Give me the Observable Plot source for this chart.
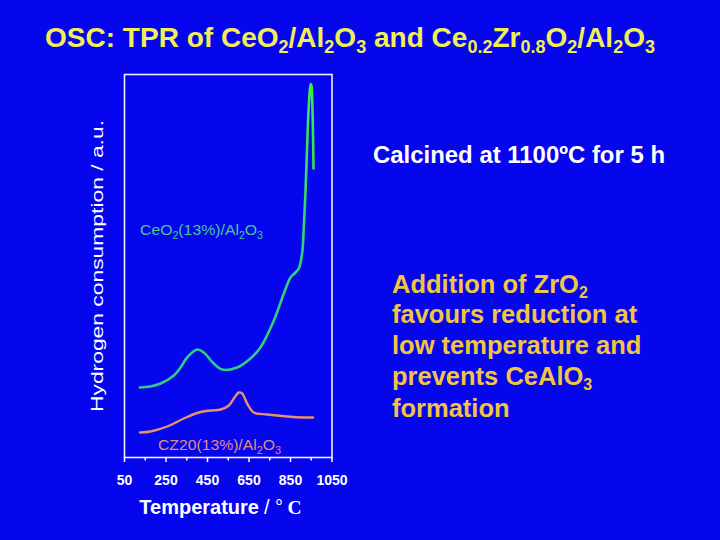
<!DOCTYPE html>
<html>
<head>
<meta charset="utf-8">
<script src="https://cdn.jsdelivr.net/npm/d3@7"></script>
<script src="https://cdn.jsdelivr.net/npm/@observablehq/plot@0.6"></script>
<style>
  html, body { margin: 0; padding: 0; background: #0505EE; }
  body { width: 720px; height: 540px; overflow: hidden; }
  svg text { font-family: "Liberation Sans", Arial, sans-serif; }
</style>
</head>
<body>
<div id="chart"></div>
<script>
// ---- Data ----
// CeO2(13%)/Al2O3 TPR trace: temperature (°C) and hydrogen consumption (a.u.)
const ceTemp = [124, 175, 224, 288, 320, 352, 400, 432, 480, 521, 593, 657, 705, 770, 818, 850, 869, 890, 906, 914, 922, 930, 937, 944, 948, 951, 956, 959, 961];
const ceH2   = [70, 71, 74, 82, 90, 100, 108, 105, 94, 88, 90, 99, 110, 137, 164, 180, 184, 189, 204, 230, 264, 310, 347, 369, 373.5, 372, 347, 317, 289];
// CZ20(13%)/Al2O3 TPR trace
const czTemp = [124, 175, 256, 336, 408, 464, 513, 553, 577, 601, 617, 641, 673, 738, 834, 914, 959];
const czH2   = [25, 26, 31, 39, 45, 47, 48, 52, 59, 65, 64, 54, 45, 43, 41, 40, 40];
// Axis ticks
const majorTicks = [50, 250, 450, 650, 850, 1050];
const minorTicks = [150, 350, 550, 750, 950];

const ce = ceTemp.map((t, i) => ({T: t, H: ceH2[i]}));
const cz = czTemp.map((t, i) => ({T: t, H: czH2[i]}));

const chart = Plot.plot({
  width: 720,
  height: 540,
  marginLeft: 124,
  marginRight: 388.5,
  marginTop: 74,
  marginBottom: 83,
  x: {domain: [50, 1050]},
  y: {domain: [0, 383], axis: null},
  style: {background: "transparent", color: "white", fontFamily: "Liberation Sans, Arial, sans-serif", overflow: "visible"},
  marks: [
    Plot.frame({stroke: "#f2f2f2", strokeWidth: 1.6}),
    Plot.axisX({ticks: minorTicks, tickSize: 3.5, tickFormat: () => "", strokeWidth: 1.5, label: null}),
    Plot.axisX({ticks: majorTicks, tickSize: 5, tickPadding: 13, fontSize: 14, fontWeight: "bold", strokeWidth: 1.5, label: null, tickFormat: d => String(d)}),
    Plot.line(ce, {x: "T", y: "H", stroke: "url(#greenGrad)", strokeWidth: 2.6, curve: "catmull-rom"}),
    Plot.line(cz, {x: "T", y: "H", stroke: "#E8906C", strokeWidth: 2.4, curve: "catmull-rom"})
  ]
});
document.getElementById("chart").appendChild(chart);

const svg = d3.select(chart);
const defs = svg.insert("defs", ":first-child");
const grad = defs.append("linearGradient")
  .attr("id", "greenGrad").attr("gradientUnits", "userSpaceOnUse")
  .attr("x1", 0).attr("y1", 74).attr("x2", 0).attr("y2", 457);
grad.append("stop").attr("offset", "0%").attr("stop-color", "#3CEE3C");
grad.append("stop").attr("offset", "45%").attr("stop-color", "#33D27A");
grad.append("stop").attr("offset", "100%").attr("stop-color", "#2FC88E");

// helper: text with subscripts
function richText(g, x, y, parts, opts) {
  const t = g.append("text").attr("x", x).attr("y", y)
    .attr("fill", opts.fill).attr("font-size", opts.size)
    .attr("font-weight", opts.weight || "normal")
    .attr("text-anchor", opts.anchor || "start");
  if (opts.len) t.attr("textLength", opts.len).attr("lengthAdjust", "spacingAndGlyphs");
  if (opts.transform) t.attr("transform", opts.transform);
  let down = false;
  parts.forEach(p => {
    const isSub = typeof p === "object";
    const s = t.append("tspan").text(isSub ? p.sub : p);
    if (isSub) {
      s.attr("font-size", opts.subSize);
      if (!down) { s.attr("dy", opts.subDy); down = true; }
    } else if (down) {
      s.attr("dy", -opts.subDy); down = false;
    }
  });
  return t;
}

const g = svg.append("g").attr("text-anchor", "start");

// Title
richText(g, 45, 46.7,
  ["OSC: TPR of CeO", {sub: "2"}, "/Al", {sub: "2"}, "O", {sub: "3"}, " and Ce", {sub: "0.2"}, "Zr", {sub: "0.8"}, "O", {sub: "2"}, "/Al", {sub: "2"}, "O", {sub: "3"}],
  {fill: "#F2EE55", size: 28, weight: "bold", subSize: 18, subDy: 6, len: 610});

// Y label
richText(g, 0, 0, ["Hydrogen consumption / a.u."],
  {fill: "white", size: 16.5, len: 292, anchor: "middle", transform: "translate(103,266) rotate(-90)"});

// Series labels
richText(g, 140, 235, ["CeO", {sub: "2"}, "(13%)/Al", {sub: "2"}, "O", {sub: "3"}],
  {fill: "#45C8A0", size: 15, subSize: 10, subDy: 4, len: 123});
richText(g, 158, 450, ["CZ20(13%)/Al", {sub: "2"}, "O", {sub: "3"}],
  {fill: "#E0907A", size: 14.5, subSize: 10, subDy: 4, len: 123});

// Annotations
richText(g, 373, 163, ["Calcined at 1100ºC for 5 h"],
  {fill: "white", size: 23.5, weight: "bold", len: 292});

const noteFill = "#F2C443";
const noteOpts = {fill: noteFill, size: 25.5, weight: "bold", subSize: 16, subDy: 5};
richText(g, 392, 293, ["Addition of ZrO", {sub: "2"}], noteOpts);
richText(g, 392, 323, ["favours reduction at"], noteOpts);
richText(g, 392, 354, ["low temperature and"], noteOpts);
richText(g, 392, 385, ["prevents CeAlO", {sub: "3"}], noteOpts);
richText(g, 392, 417, ["formation"], noteOpts);

// X axis title
const xt = g.append("text").attr("y", 514).attr("fill", "white").attr("text-anchor", "start");
xt.append("tspan").attr("x", 139.3).attr("font-size", 20).attr("font-weight", "bold").text("Temperature");
xt.append("tspan").attr("x", 264).attr("font-size", 20).text("/");
xt.append("tspan").attr("x", 275).attr("font-size", 20).text("°");
xt.append("tspan").attr("x", 287.5).attr("font-size", 19.5).attr("font-weight", "bold")
  .style("font-family", "'Liberation Serif', 'Times New Roman', serif").text("C");
</script>
</body>
</html>
